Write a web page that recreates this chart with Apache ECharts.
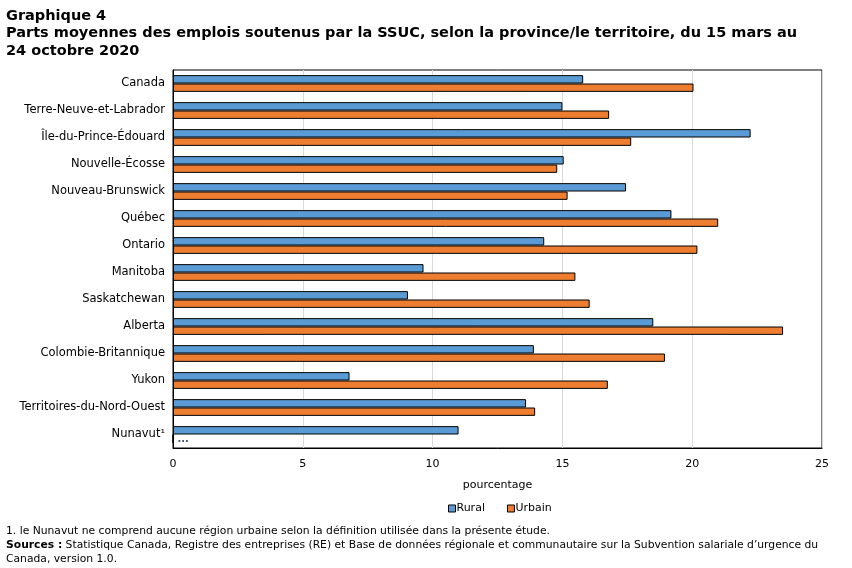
<!DOCTYPE html>
<html>
<head>
<meta charset="utf-8">
<script src="https://cdn.jsdelivr.net/npm/echarts@6/dist/echarts.min.js"></script>
<style>
html,body{margin:0;padding:0;background:#fff;}
#chart{width:852px;height:568px;}
</style>
</head>
<body>
<div id="chart"></div>
<script>
// données
var categories = ['Canada', 'Terre-Neuve-et-Labrador', 'Île-du-Prince-Édouard', 'Nouvelle-Écosse',
    'Nouveau-Brunswick', 'Québec', 'Ontario', 'Manitoba', 'Saskatchewan', 'Alberta',
    'Colombie-Britannique', 'Yukon', 'Territoires-du-Nord-Ouest', 'Nunavut¹'];
var rural = [15.8, 15.0, 22.25, 15.05, 17.45, 19.2, 14.3, 9.65, 9.05, 18.5, 13.9, 6.8, 13.6, 11.0];
var urbain = [20.05, 16.8, 17.65, 14.8, 15.2, 21.0, 20.2, 15.5, 16.05, 23.5, 18.95, 16.75, 13.95, null];
var xTicks = [0, 5, 10, 15, 20, 25];

var font = 'DejaVu Sans';

// valeur manquante -> "..."
var urbainData = urbain.map(function (v) {
    if (v === null) {
        return {
            value: 0,
            label: {
                show: true,
                position: 'insideLeft',
                offset: [0, 1],
                formatter: '...',
                color: '#44546a',
                fontSize: 10,
                fontWeight: 'bold',
                fontFamily: font
            }
        };
    }
    return v;
});

var myChart = echarts.init(document.getElementById('chart'));
var option = {
    animation: false,
    textStyle: { fontFamily: font },
    title: [
        {
            text: 'Graphique 4\nParts moyennes des emplois soutenus par la SSUC, selon la province/le territoire, du 15 mars au\n24 octobre 2020',
            left: 6,
            top: 7,
            padding: 0,
            textStyle: {
                fontFamily: font,
                fontSize: 14.5,
                fontWeight: 'bold',
                color: '#000',
                lineHeight: 17.5
            }
        },
        {
            text: '1. le Nunavut ne comprend aucune région urbaine selon la définition utilisée dans la présente étude.\n{b|Sources :} Statistique Canada, Registre des entreprises (RE) et Base de données régionale et communautaire sur la Subvention salariale d’urgence du\nCanada, version 1.0.',
            left: 6,
            top: 524,
            padding: 0,
            textStyle: {
                fontFamily: font,
                fontSize: 10.75,
                fontWeight: 'normal',
                color: '#000',
                lineHeight: 14,
                rich: {
                    b: { fontFamily: font, fontSize: 10.75, fontWeight: 'bold', color: '#000', lineHeight: 14 }
                }
            }
        }
    ],
    legend: {
        data: ['Rural', 'Urbain'],
        left: 443,
        top: 498,
        icon: 'rect',
        itemWidth: 7,
        itemHeight: 7,
        itemGap: 22,
        itemStyle: { borderColor: '#000', borderWidth: 1 },
        textStyle: { fontFamily: font, fontSize: 11, color: '#000', padding: [0, 0, 0, -4] }
    },
    grid: {
        left: 173,
        right: 30,
        top: 70,
        bottom: 120,
        show: true,
        borderColor: '#000',
        borderWidth: 1
    },
    xAxis: {
        type: 'value',
        min: xTicks[0],
        max: xTicks[xTicks.length - 1],
        interval: 5,
        name: 'pourcentage',
        nameLocation: 'middle',
        nameGap: 32,
        nameTextStyle: { fontFamily: font, fontSize: 11, color: '#000' },
        axisLine: { show: true, lineStyle: { color: '#000' } },
        axisTick: { show: false },
        axisLabel: { fontFamily: font, fontSize: 11, color: '#000', margin: 11 },
        splitLine: { show: true, lineStyle: { color: '#d9d9d9', width: 1 } }
    },
    yAxis: {
        type: 'category',
        data: categories,
        inverse: true,
        axisLine: { show: true, lineStyle: { color: '#000' } },
        axisTick: { show: false },
        axisLabel: { fontFamily: font, fontSize: 11.5, color: '#000', margin: 8 },
        splitLine: { show: false }
    },
    series: [
        {
            name: 'Rural',
            type: 'bar',
            data: rural,
            barGap: '0%',
            barCategoryGap: '38%',
            itemStyle: { color: '#5b9bd5', borderColor: '#000', borderWidth: 1 }
        },
        {
            name: 'Urbain',
            type: 'bar',
            data: urbainData,
            itemStyle: { color: '#ed7d31', borderColor: '#000', borderWidth: 1 }
        }
    ]
};
myChart.setOption(option);
</script>
</body>
</html>
